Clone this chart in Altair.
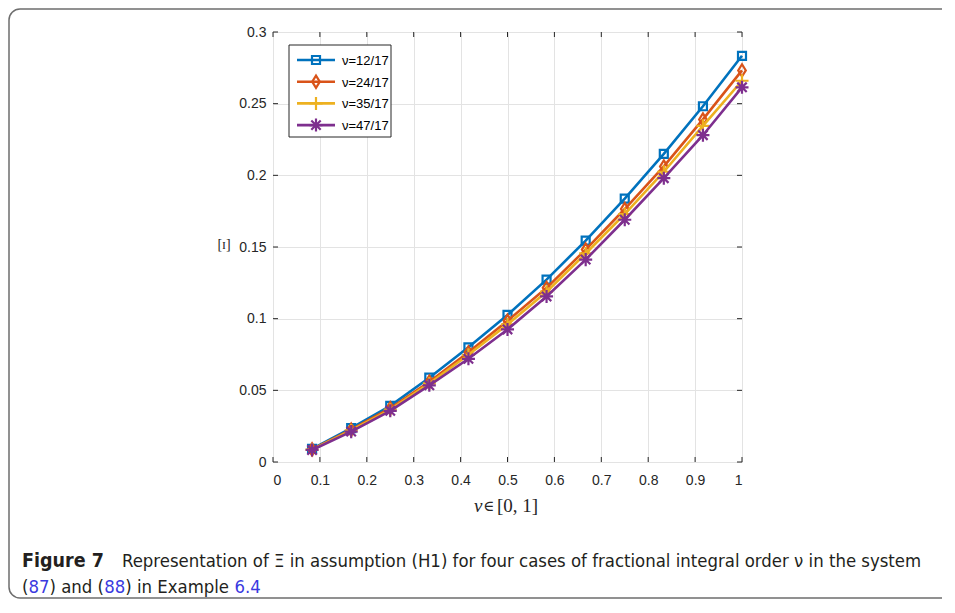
import altair as alt
import pandas as pd

# ---- data ----
v_vals = [0.0833, 0.1667, 0.25, 0.3333, 0.4167, 0.5, 0.5833, 0.6667, 0.75, 0.8333, 0.9167, 1.0]
series_labels = ["ν=12/17", "ν=24/17", "ν=35/17", "ν=47/17"]
xi_12 = [0.0092, 0.0237, 0.0392, 0.0588, 0.0800, 0.1026, 0.1272, 0.1545, 0.1838, 0.2150, 0.2482, 0.2834]
xi_24 = [0.0088, 0.0225, 0.0375, 0.0560, 0.0765, 0.0985, 0.1215, 0.1482, 0.1765, 0.2062, 0.2390, 0.2732]
xi_35 = [0.0086, 0.0220, 0.0365, 0.0548, 0.0748, 0.0960, 0.1188, 0.1455, 0.1730, 0.2025, 0.2345, 0.2660]
xi_47 = [0.0084, 0.0212, 0.0357, 0.0535, 0.0720, 0.0925, 0.1155, 0.1412, 0.1690, 0.1980, 0.2280, 0.2614]
x_ticks = [0, 0.1, 0.2, 0.3, 0.4, 0.5, 0.6, 0.7, 0.8, 0.9, 1]
y_ticks = [0, 0.05, 0.1, 0.15, 0.2, 0.25, 0.3]

colors = ["#0072BD", "#D95319", "#EDB120", "#7E2F8E"]
shapes = [
    "M-1,-1H1V1H-1Z",
    "M0,-1L0.62,0L0,1L-0.62,0Z",
    "M-1,0H1M0,-1V1",
    "M-1,0H1M0,-1V1M-0.72,-0.72L0.72,0.72M-0.72,0.72L0.72,-0.72",
]
sizes = [64, 150, 170, 170]

W, H = 469, 430
TXT = "#262626"

xs = alt.Scale(domain=[0, 1], nice=False)
ys = alt.Scale(domain=[0, 0.3], nice=False)

one = pd.DataFrame({"a": [0]})

frame = alt.Chart(one).mark_rect(
    fill=None, stroke="#6e6e6e", strokeWidth=1.5, cornerRadius=11
).encode(x=alt.value(-264), x2=alt.value(720), y=alt.value(-23), y2=alt.value(566))

base_axes = alt.Chart(one).mark_point(opacity=0).encode(
    x=alt.X("a:Q", scale=xs, title=None,
            axis=alt.Axis(values=x_ticks, labelExpr="datum.value", grid=True, ticks=False, domain=False,
                          labelPadding=11, labelFontSize=14, labelColor=TXT, labelFont="Liberation Sans",
                          gridColor="#e3e3e3", gridWidth=1)),
    y=alt.Y("a:Q", scale=ys, title=None,
            axis=alt.Axis(values=y_ticks, labelExpr="datum.value", grid=True, ticks=False, domain=False,
                          labelPadding=7, labelFontSize=14, labelColor=TXT, labelFont="Liberation Sans",
                          gridColor="#e3e3e3", gridWidth=1)),
)

layers = [frame, base_axes]

all_series = [xi_12, xi_24, xi_35, xi_47]
for lab, vals, col, shp, sz in zip(series_labels, all_series, colors, shapes, sizes):
    df = pd.DataFrame({"v": v_vals, "xi": vals, "s": lab})
    line = alt.Chart(df).mark_line(color=col, strokeWidth=2.6).encode(
        x=alt.X("v:Q", scale=xs), y=alt.Y("xi:Q", scale=ys))
    pts = alt.Chart(df).mark_point(shape=shp, size=sz, color=col, filled=False, strokeWidth=2.2, opacity=1).encode(
        x=alt.X("v:Q", scale=xs), y=alt.Y("xi:Q", scale=ys))
    layers += [line, pts]

# inward ticks on all four sides (box on)
xt = pd.DataFrame({"t": x_ticks})
yt = pd.DataFrame({"t": y_ticks})
TL = 5
layers += [
    alt.Chart(xt).mark_rule(color=TXT, strokeWidth=1).encode(x=alt.X("t:Q", scale=xs), y=alt.value(H), y2=alt.value(H - TL)),
    alt.Chart(xt).mark_rule(color=TXT, strokeWidth=1).encode(x=alt.X("t:Q", scale=xs), y=alt.value(0), y2=alt.value(TL)),
    alt.Chart(yt).mark_rule(color=TXT, strokeWidth=1).encode(y=alt.Y("t:Q", scale=ys), x=alt.value(0), x2=alt.value(TL)),
    alt.Chart(yt).mark_rule(color=TXT, strokeWidth=1).encode(y=alt.Y("t:Q", scale=ys), x=alt.value(W), x2=alt.value(W - TL)),
]

# legend
layers.append(alt.Chart(one).mark_rect(fill="white", stroke=TXT, strokeWidth=1).encode(
    x=alt.value(16), x2=alt.value(118), y=alt.value(13), y2=alt.value(105)))
for i, (lab, col, shp, sz) in enumerate(zip(series_labels, colors, shapes, sizes)):
    yy = 28 + i * 21.7
    d = pd.DataFrame({"label": [lab]})
    layers.append(alt.Chart(d).mark_rule(color=col, strokeWidth=2.6).encode(
        x=alt.value(24), x2=alt.value(62), y=alt.value(yy)))
    layers.append(alt.Chart(d).mark_point(shape=shp, size=sz, color=col, filled=False, strokeWidth=2.2, opacity=1).encode(
        x=alt.value(43), y=alt.value(yy)))
    layers.append(alt.Chart(d).mark_text(align="left", baseline="middle", fontSize=13, font="Liberation Sans", color="black").encode(
        x=alt.value(69), y=alt.value(yy + 1), text="label:N"))

# axis titles
layers.append(alt.Chart(pd.DataFrame({"t": ["[ɪ]"]})).mark_text(
    align="center", baseline="middle", fontSize=14, font="Liberation Serif", color=TXT).encode(
    x=alt.value(-49), y=alt.value(213), text="t:N"))
layers.append(alt.Chart(pd.DataFrame({"t": ["v"]})).mark_text(
    align="left", baseline="middle", fontSize=19, font="Liberation Serif", fontStyle="italic", color=TXT).encode(
    x=alt.value(201), y=alt.value(474), text="t:N"))
layers.append(alt.Chart(pd.DataFrame({"t": ["∈"]})).mark_text(
    align="left", baseline="middle", fontSize=15, font="DejaVu Serif", color=TXT).encode(
    x=alt.value(210), y=alt.value(474), text="t:N"))
layers.append(alt.Chart(pd.DataFrame({"t": ["[0, 1]"]})).mark_text(
    align="left", baseline="middle", fontSize=19, font="Liberation Serif", color=TXT).encode(
    x=alt.value(224), y=alt.value(474), text="t:N"))

# caption
CAP = "#231f20"
BLUE = "#3a3adf"
CF = "DejaVu Sans Condensed"
CS = 18.4
layers.append(alt.Chart(pd.DataFrame({"t": ["Figure 7"]})).mark_text(
    align="left", baseline="middle", fontSize=19.5, font=CF, fontWeight="bold", color=CAP).encode(
    x=alt.value(-251), y=alt.value(529), text="t:N"))
layers.append(alt.Chart(pd.DataFrame({"t": ["Representation of Ξ in assumption (H1) for four cases of fractional integral order ν in the system"]})).mark_text(
    align="left", baseline="middle", fontSize=CS, font=CF, color=CAP).encode(
    x=alt.value(-151), y=alt.value(529), text="t:N"))

# second caption line, pieces laid out one after another (approx. glyph advances, em units)
adv = {"(": 0.390, ")": 0.390, " ": 0.318, ".": 0.318, "a": 0.613, "n": 0.634, "d": 0.635,
       "i": 0.278, "E": 0.632, "x": 0.592, "m": 0.974, "p": 0.635, "l": 0.278, "e": 0.615}
def text_w(s):
    return sum(adv.get(ch, 0.636) for ch in s) * 0.9 * CS

pieces = [("(", CAP), ("87", BLUE), (") and (", CAP), ("88", BLUE), (") in Example ", CAP), ("6.4", BLUE)]
px = -251.0
for txt, c in pieces:
    layers.append(alt.Chart(pd.DataFrame({"t": [txt]})).mark_text(
        align="left", baseline="middle", fontSize=CS, font=CF, color=c).encode(
        x=alt.value(px), y=alt.value(555), text="t:N"))
    px += text_w(txt)

chart = alt.layer(*layers).properties(
    width=W, height=H,
    autosize=alt.AutoSizeParams(type="none"),
    padding={"left": 265, "top": 24, "right": 200, "bottom": 138},
).configure_view(stroke=TXT, strokeWidth=1.2).configure(background="white")

chart.save("out.html", embed_options={"renderer": "svg", "actions": False})
